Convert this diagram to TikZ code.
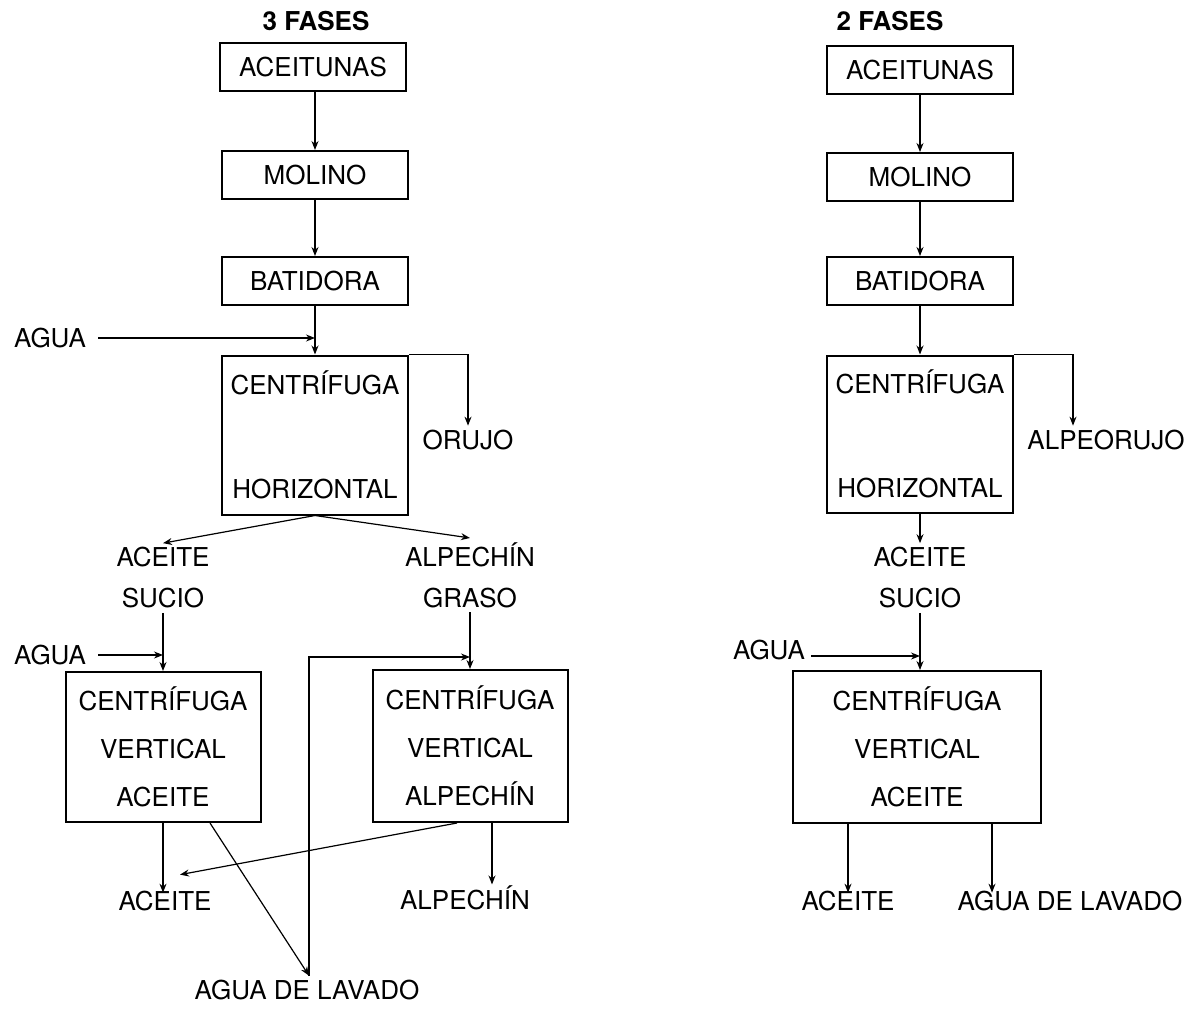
\documentclass[tikz,border=0pt]{standalone}
\usepackage{fontspec}
\setmainfont{TeX Gyre Heros}
\usetikzlibrary{arrows.meta}
\tikzset{
  caja/.style={draw, line width=1pt, minimum width=93pt, minimum height=24pt, inner sep=0pt, align=center},
  etiq/.style={inner sep=2pt, align=center},
  flecha/.style={line width=0.6pt, -{Stealth[length=4.5pt,width=3.5pt]}},
  linea/.style={line width=0.6pt},
}
\begin{document}
\begin{tikzpicture}[x=0.5pt,y=-0.5pt,font=\fontsize{13}{20.5}\selectfont]
	\useasboundingbox (0,0) rectangle (1192,1021); % Fixes the page size...
	% 3 fases
	\node[font=\fontsize{13}{15}\selectfont\bfseries] (tit3) at (316,21) {3 FASES};
	\node[caja] (ace3) at (313,67) {ACEITUNAS};
	\node[caja] (mol3) at (315,175) {MOLINO};
	\node[caja] (bat3) at (315,281) {BATIDORA};
	\node[caja, minimum height=79.5pt] (ch3) at (315,435) {CENTRÍFUGA\\[31.5pt]HORIZONTAL};
	\node[etiq] (agua3a) at (50,338) {AGUA};
	\node[etiq] (oru3) at (468,440) {ORUJO};
	\node[etiq] (sucio3) at (163,578) {ACEITE\\SUCIO};
	\node[etiq] (graso3) at (470,575) {ALPECHÍN\\GRASO};
	\node[etiq] (agua3b) at (50,655) {AGUA};
	\node[caja, minimum width=97.5pt, minimum height=75pt] (cva3) at (163,747) {CENTRÍFUGA\\[3.5pt]VERTICAL\\[3.5pt]ACEITE};
	\node[caja, minimum width=97.5pt, minimum height=76pt] (cvp3) at (470,746) {CENTRÍFUGA\\[3.5pt]VERTICAL\\[3.5pt]ALPECHÍN};
	\node[etiq] (acef3) at (165,901) {ACEITE};
	\node[etiq] (alpf3) at (465,898) {ALPECHÍN};
	\node[etiq] (lav3) at (307,990) {AGUA DE LAVADO};

	\draw[flecha] (ace3.south -| mol3.north) -- (mol3.north);
	\draw[flecha] (mol3) -- (bat3);
	\draw[flecha] (bat3) -- (ch3);
	\draw[flecha, shorten <=4pt] (agua3a.east) -- (agua3a.east -| ch3.north);
	\draw[flecha] (ch3.north east) -| (oru3.north);
	\draw[flecha] (ch3.south) -- (sucio3.north);
	\draw[flecha] (ch3.south) -- (graso3.north);
	\draw[flecha] (sucio3.south) -- (sucio3.south |- cva3.north);
	\draw[flecha, shorten <=4pt] (agua3b.east) -- (agua3b.east -| sucio3.south);
	\draw[flecha] (graso3.south) -- (graso3.south |- cvp3.north);
	\draw[flecha] ([xshift=1pt]lav3.north) |- ([yshift=-1pt]agua3b -| graso3.south);
	\draw[flecha] ([xshift=23.5pt]cva3.south) -- ([xshift=1pt]lav3.north);
	\draw[flecha] (cva3.south) -- ([yshift=-3pt]cva3.south |- acef3.north);
	\draw[flecha] ([xshift=-6.5pt]cvp3.south) -- ([shift={(7.5pt,6pt)}]acef3.north);
	\draw[flecha] ([xshift=11pt]cvp3.south) -- ([yshift=-1.5pt,xshift=11pt]cvp3.south |- alpf3.north);

	% 2 fases
	\node[font=\fontsize{13}{15}\selectfont\bfseries] (tit2) at (890,21) {2 FASES};
	\node[caja] (ace2) at (920,70) {ACEITUNAS};
	\node[caja] (mol2) at (920,177) {MOLINO};
	\node[caja] (bat2) at (920,281) {BATIDORA};
	\node[caja, minimum height=78.5pt] (ch2) at (920,434) {CENTRÍFUGA\\[31.5pt]HORIZONTAL};
	\node[etiq] (alpo2) at (1106,440) {ALPEORUJO};
	\node[etiq] (sucio2) at (920,578) {ACEITE\\SUCIO};
	\node[etiq] (agua2) at (769,650) {AGUA};
	\node[caja, minimum width=124pt, minimum height=76pt] (cv2) at (917,747) {CENTRÍFUGA\\[3.5pt]VERTICAL\\[3.5pt]ACEITE};
	\node[etiq] (acef2) at (848,901) {ACEITE};
	\node[etiq] (lav2) at (1070,901) {AGUA DE LAVADO};

	\draw[flecha] (ace2) -- (mol2);
	\draw[flecha] (mol2) -- (bat2);
	\draw[flecha] (bat2) -- (ch2);
	\draw[flecha] (ch2.north east) -| ([xshift=-16.5pt]alpo2.north);
	\draw[flecha] (ch2.south) -- (sucio2.north);
	\draw[flecha] (sucio2.south) -- (sucio2.south |- cv2.north);
	\draw[flecha, shorten <=1pt] ([yshift=-3pt]agua2.east) -- ([yshift=-3pt]agua2.east -| sucio2.south);
	\draw[flecha] (acef2.north |- cv2.south) -- ([yshift=-3pt]acef2.north);
	\draw[flecha] ([xshift=37.5pt]cv2.south) -- ([yshift=-3pt,xshift=37.5pt]cv2.south |- lav2.north);
\end{tikzpicture}
\end{document}
